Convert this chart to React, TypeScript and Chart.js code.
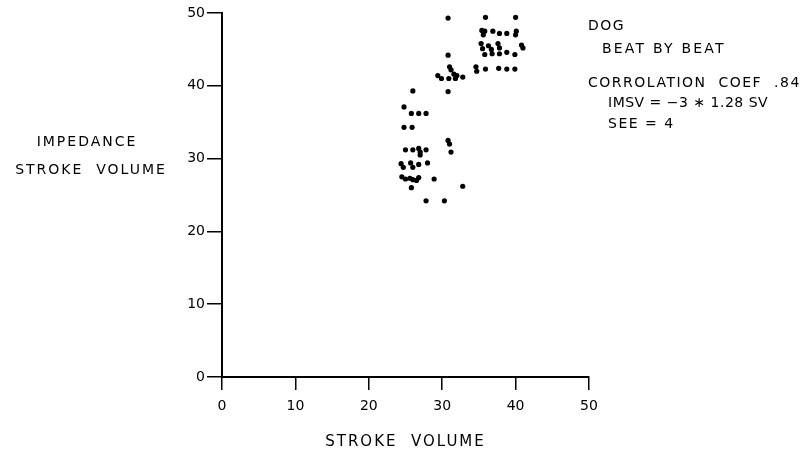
import React, { useEffect, useRef } from "react";
import { Chart, registerables } from "chart.js";

Chart.register(...registerables);

// ---- data ----
const xTicks = [0, 10, 20, 30, 40, 50];
const yTicks = [0, 10, 20, 30, 40, 50];

const strokeVolume = [
  // upper right cluster
  35.9, 40.0,
  35.4, 35.6, 35.8, 36.9, 37.8, 38.8, 40.0, 40.1,
  35.3, 35.5, 36.3, 36.7, 37.6, 37.8, 40.8, 41.0,
  35.8, 36.8, 37.8, 38.8, 39.9,
  34.6, 34.7, 35.9, 37.7, 38.8, 39.9,
  // middle cluster
  30.8, 30.8, 31.0, 31.2, 29.4, 29.9, 30.9, 31.6, 31.8, 32.0, 32.8, 30.8,
  30.8, 31.0, 31.2,
  // lower cluster
  26.0, 24.8, 25.8, 26.8, 27.8, 24.8, 25.9,
  25.0, 26.0, 26.8, 27.0, 27.0, 27.8,
  24.4, 24.7, 25.7, 26.0, 26.8, 28.0,
  24.5, 25.0, 25.6, 26.0, 26.5, 26.8, 28.9,
  25.8, 32.8, 27.8, 30.3,
];

const impedanceSV = [
  49.4, 49.4,
  47.6, 47.0, 47.5, 47.5, 47.2, 47.2, 47.0, 47.5,
  45.8, 45.1, 45.5, 45.0, 45.8, 45.2, 45.6, 45.2,
  44.3, 44.4, 44.4, 44.6, 44.3,
  42.6, 42.0, 42.3, 42.4, 42.3, 42.3,
  49.3, 44.2, 42.6, 42.2, 41.4, 41.0, 41.0, 41.6, 41.0, 41.4, 41.2, 39.2,
  32.5, 32.0, 30.9,
  39.3, 37.1, 36.2, 36.2, 36.2, 34.3, 34.3,
  31.2, 31.2, 31.4, 30.9, 30.5, 31.2,
  29.3, 28.8, 29.4, 28.8, 29.2, 29.4,
  27.5, 27.2, 27.3, 27.1, 27.0, 27.4, 27.2,
  26.0, 26.2, 24.2, 24.2,
];

const xTitle = "STROKE  VOLUME";
const yTitleLines = ["IMPEDANCE", "STROKE  VOLUME"];
const notes = [
  "DOG",
  "BEAT BY BEAT",
  "CORROLATION  COEF  .84",
  "IMSV = −3 ∗ 1.28 SV",
  "SEE = 4",
];

const FONT = "'DejaVu Sans', sans-serif";

const textPlugin = {
  id: "textPlugin",
  afterDraw(chart: any) {
    const ctx = chart.ctx as CanvasRenderingContext2D;
    const area = chart.chartArea;
    ctx.save();
    ctx.fillStyle = "#000";
    ctx.textBaseline = "middle";
    ctx.textAlign = "left";

    // x title
    ctx.font = `15px ${FONT}`;
    (ctx as any).letterSpacing = "2px";
    const xw = ctx.measureText(xTitle).width;
    ctx.fillText(xTitle, (area.left + area.right) / 2 - xw / 2, 442);

    // y title (horizontal, two lines)
    ctx.font = `14px ${FONT}`;
    (ctx as any).letterSpacing = "2px";
    const yPos = [142, 170];
    const yCx = [87, 91];
    yTitleLines.forEach((t, i) => {
      const w = ctx.measureText(t).width;
      ctx.fillText(t, yCx[i] - w / 2, yPos[i]);
    });

    // notes
    ctx.font = `14px ${FONT}`;
    const nx = [588, 602, 588, 608, 608];
    const ny = [26, 49, 83, 103, 124];
    const ls = ["1.5px", "2.2px", "1.5px", "0.5px", "1.5px"];
    notes.forEach((t, i) => {
      (ctx as any).letterSpacing = ls[i];
      ctx.fillText(t, nx[i], ny[i]);
    });
    ctx.restore();
  },
};

export default function App() {
  const ref = useRef<HTMLCanvasElement>(null);
  useEffect(() => {
    if (!ref.current) return;
    const points = strokeVolume.map((x, i) => ({ x, y: impedanceSV[i] }));
    const chart = new Chart(ref.current, {
      type: "scatter",
      data: {
        datasets: [
          {
            data: points,
            backgroundColor: "#000",
            borderColor: "#000",
            pointRadius: 2.6,
            borderWidth: 0,
          },
        ],
      },
      options: {
        responsive: false,
        animation: false,
        devicePixelRatio: 1,
        layout: { padding: { left: 0, right: 220, top: 13, bottom: 0 } },
        plugins: { legend: { display: false }, tooltip: { enabled: false } },
        scales: {
          x: {
            type: "linear",
            min: 0,
            max: 50,
            afterBuildTicks: (s: any) => {
              s.ticks = xTicks.map((v) => ({ value: v }));
            },
            afterFit: (s: any) => {
              s.height = 79;
            },
            grid: {
              drawOnChartArea: false,
              drawTicks: true,
              tickLength: 13,
              color: "#000",
              lineWidth: 1.5,
            },
            border: { display: true, color: "#000", width: 2 },
            ticks: {
              color: "#000",
              padding: 8,
              font: { size: 14, family: FONT },
              maxRotation: 0,
            },
          },
          y: {
            type: "linear",
            min: 0,
            max: 50,
            afterBuildTicks: (s: any) => {
              s.ticks = yTicks.map((v) => ({ value: v }));
            },
            afterFit: (s: any) => {
              s.width = 222;
            },
            grid: {
              drawOnChartArea: false,
              drawTicks: true,
              tickLength: 15,
              color: "#000",
              lineWidth: 1.5,
            },
            border: { display: true, color: "#000", width: 2 },
            ticks: {
              color: "#000",
              padding: 2,
              font: { size: 14, family: FONT },
            },
          },
        },
      },
      plugins: [textPlugin],
    } as any);
    return () => chart.destroy();
  }, []);

  return (
    <div style={{ position: "absolute", left: 0, top: 0, width: 809, height: 456, background: "#fff" }}>
      <canvas ref={ref} width={809} height={456} style={{ display: "block" }} />
    </div>
  );
}
